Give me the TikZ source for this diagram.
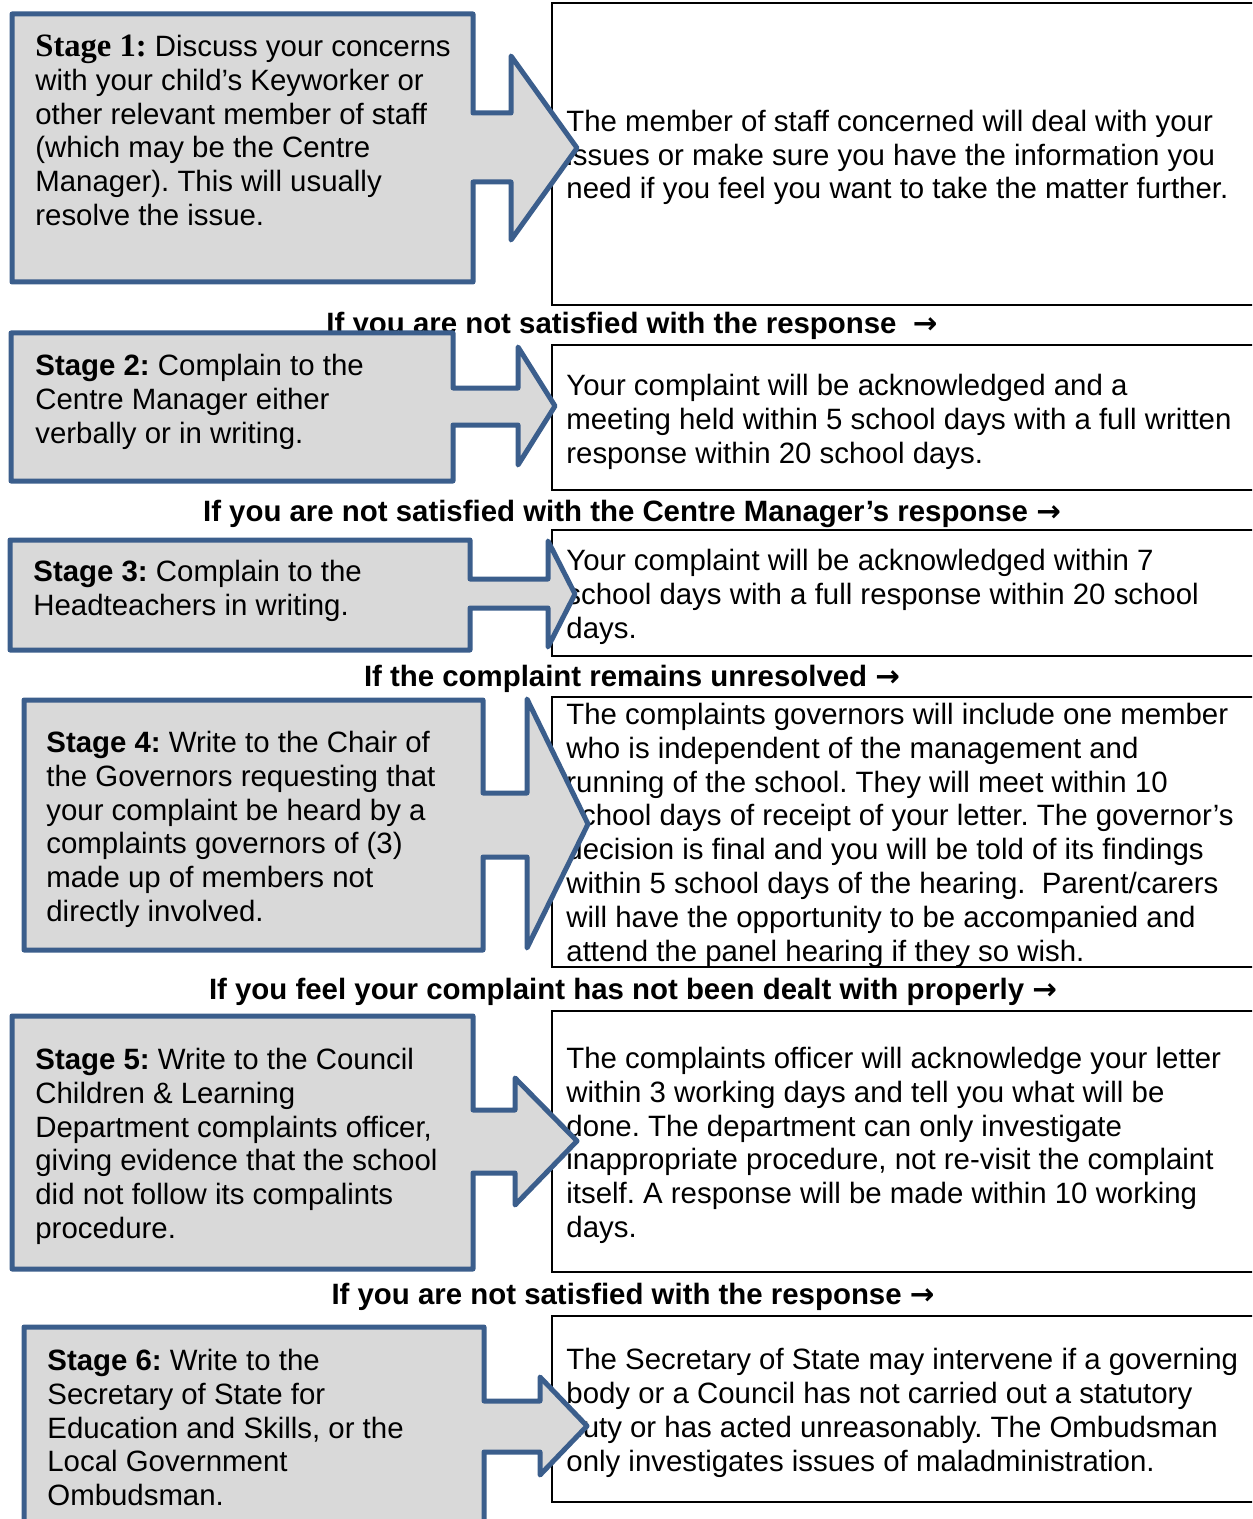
\documentclass[tikz,border=0pt]{standalone}
\usepackage{fontspec}
\setmainfont{Liberation Sans}
\newfontfamily\timesfont{Liberation Serif}
\newfontfamily\arrowfont{DejaVu Sans}
\newcommand\rarr{{\arrowfont\bfseries →}}
\frenchspacing
\definecolor{calloutfill}{HTML}{D9D9D9}
\definecolor{calloutline}{HTML}{3B5E8C}
\tikzset{
  callout/.style={draw=calloutline, fill=calloutfill, line width=2.5pt, line join=round},
  txtbox/.style={draw=black, line width=1pt},
  body/.style={anchor=base west, inner sep=0pt, align=left, font=\fontsize{14.7}{16.9}\selectfont},
  lbl/.style={anchor=base, inner sep=0pt, font=\fontsize{14.7}{17}\selectfont\bfseries},
}
\begin{document}
\begin{tikzpicture}[x=0.5pt,y=-0.5pt]
\useasboundingbox (0,0) rectangle (1252,1519);
\clip (0,0) rectangle (1252,1519);
% text boxes
\draw[txtbox] (552,3) rectangle (1262,305);
\draw[txtbox] (552,345) rectangle (1262,490);
\draw[txtbox] (552,530) rectangle (1262,656);
\draw[txtbox] (552,697) rectangle (1262,967);
\draw[txtbox] (552,1011) rectangle (1262,1272);
\draw[txtbox] (552,1316) rectangle (1262,1502);
\node[body] (r1) at (566,199) {The member of staff concerned will deal with your\\issues or make sure you have the information you\\need if you feel you want to take the matter further.};
\node[body] (r2) at (566,463) {Your complaint will be acknowledged and a\\meeting held within 5 school days with a full written\\response within 20 school days.};
\node[body] (r3) at (566,638) {Your complaint will be acknowledged within 7\\school days with a full response within 20 school\\days.};
\node[body] (r4) at (566,961) {The complaints governors will include one member\\who is independent of the management and\\running of the school. They will meet within 10\\school days of receipt of your letter. The governor’s\\decision is final and you will be told of its findings\\within 5 school days of the hearing.\ \ Parent/carers\\will have the opportunity to be accompanied and\\attend the panel hearing if they so wish.};
\node[body] (r5) at (566,1237.5) {The complaints officer will acknowledge your letter\\within 3 working days and tell you what will be\\done. The department can only investigate\\inappropriate procedure, not re-visit the complaint\\itself. A response will be made within 10 working\\days.};
\node[body] (r6) at (566,1471) {The Secretary of State may intervene if a governing\\body or a Council has not carried out a statutory\\duty or has acted unreasonably. The Ombudsman\\only investigates issues of maladministration.};
% labels
\node[lbl] (l1) at (632,333.5) {If you are not satisfied with the response\ \ \rarr};
\node[lbl] (l2) at (632,521.5) {If you are not satisfied with the Centre Manager’s response \rarr};
\node[lbl] (l3) at (632,686.5) {If the complaint remains unresolved \rarr};
\node[lbl] (l4) at (633,999.5) {If you feel your complaint has not been dealt with properly \rarr};
\node[lbl] (l5) at (633,1304.5) {If you are not satisfied with the response \rarr};
% callouts
\draw[callout] (12,14) -- (473,14) -- (473,113) -- (511,113) -- (511,56) -- (577,148) -- (511,240) -- (511,182) -- (473,182) -- (473,282) -- (12,282) -- cycle;
\draw[callout] (11,333) -- (453,333) -- (453,388) -- (518,388) -- (518,347) -- (555,406) -- (518,465) -- (518,425) -- (453,425) -- (453,481) -- (11,481) -- cycle;
\draw[callout] (10,540) -- (470,540) -- (470,579) -- (548,579) -- (548,541) -- (575,594) -- (548,647) -- (548,608) -- (470,608) -- (470,650) -- (10,650) -- cycle;
\draw[callout] (24,700) -- (483,700) -- (483,793) -- (527,793) -- (527,699) -- (588,824) -- (527,948) -- (527,857) -- (483,857) -- (483,950) -- (24,950) -- cycle;
\draw[callout] (12,1016) -- (473,1016) -- (473,1110) -- (515,1110) -- (515,1078) -- (577,1141) -- (515,1205) -- (515,1173) -- (473,1173) -- (473,1269) -- (12,1269) -- cycle;
\draw[callout] (24,1327) -- (484,1327) -- (484,1401) -- (540,1401) -- (540,1377) -- (587,1426) -- (540,1475) -- (540,1452) -- (484,1452) -- (484,1540) -- (24,1540) -- cycle;
% stage texts
\node[body] (s1) at (35,225.5) {{\timesfont\bfseries\fontsize{16.3}{17}\selectfont Stage 1:} Discuss your concerns\\with your child’s Keyworker or\\other relevant member of staff\\(which may be the Centre\\Manager). This will usually\\resolve the issue.};
\node[body] (s2) at (35,443) {\textbf{Stage 2:} Complain to the\\Centre Manager either\\verbally or in writing.};
\node[body] (s3) at (33,615.3) {\textbf{Stage 3:} Complain to the\\Headteachers in writing.};
\node[body] (s4) at (46,921.5) {\textbf{Stage 4:} Write to the Chair of\\the Governors requesting that\\your complaint be heard by a\\complaints governors of (3)\\made up of members not\\directly involved.};
\node[body] (s5) at (35,1238.5) {\textbf{Stage 5:} Write to the Council\\Children \& Learning\\Department complaints officer,\\giving evidence that the school\\did not follow its compalints\\procedure.};
\node[body] (s6) at (47,1505.7) {\textbf{Stage 6:} Write to the\\Secretary of State for\\Education and Skills, or the\\Local Government\\Ombudsman.};
\end{tikzpicture}
\end{document}
